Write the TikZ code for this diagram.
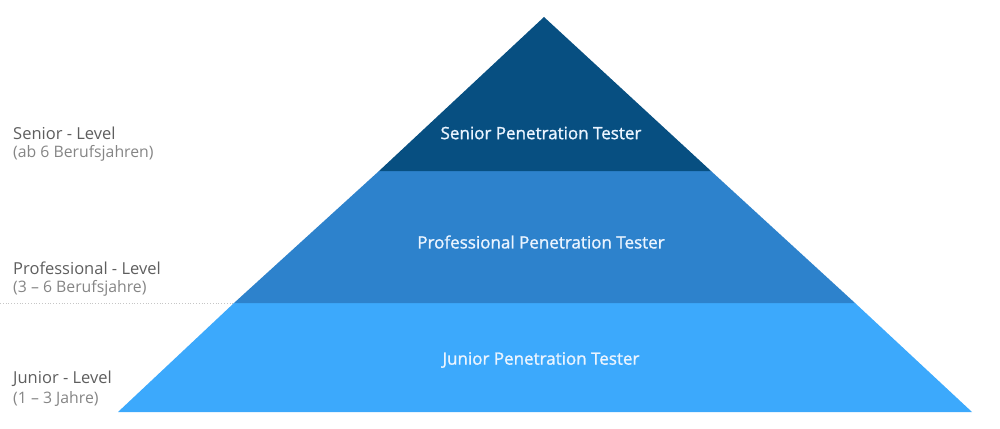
\documentclass[tikz,border=0pt]{standalone}
\usepackage{fontspec}
\setmainfont{Open Sans}
\newfontfamily\bandfont[FakeBold=1.2]{Open Sans}
\definecolor{seniorc}{HTML}{074F81}
\definecolor{profc}{HTML}{2D82CC}
\definecolor{juniorc}{HTML}{3CA9FC}
\definecolor{labc}{HTML}{5E5E5E}
\definecolor{subc}{HTML}{858585}
\definecolor{txtc}{HTML}{EAF4FF}
\begin{document}
\begin{tikzpicture}[x=1pt,y=-1pt,
  bandtext/.style={text=txtc,font=\bandfont\fontsize{17}{20}\selectfont,anchor=center},
  lvl/.style={text=labc,font=\fontsize{16.5}{19}\selectfont,anchor=west,inner sep=0pt},
  sub/.style={text=subc,font=\fontsize{15.8}{19}\selectfont,anchor=west,inner sep=0pt}]
\useasboundingbox (0,0) rectangle (1000,428);
\coordinate (apex) at (544,17);
\coordinate (bl) at (118,412);
\coordinate (br) at (972,412);
\coordinate (l1) at (379,171);
\coordinate (r1) at (711,171);
\coordinate (l2) at (234,303);
\coordinate (r2) at (855,303);
\fill[juniorc] (l2) -- (r2) -- (br) -- (bl) -- cycle;
\fill[profc] (l1) -- (r1) -- (r2) -- (l2) -- cycle;
\fill[seniorc] (apex) -- (r1) -- (l1) -- cycle;
\node[bandtext] (ts) at (541,133) {Senior Penetration Tester};
\node[bandtext] (tp) at (541,242) {Professional Penetration Tester};
\node[bandtext] (tj) at (541,360) {Junior Penetration Tester};
\node[lvl] (s1) at (13,133) {Senior - Level};
\node[sub] (s2) at (13,153) {(ab 6 Berufsjahren)};
\node[lvl] (p1) at (13,268) {Professional - Level};
\node[sub] (p2) at (13,288) {(3 – 6 Berufsjahre)};
\node[lvl] (j1) at (13,379) {Junior - Level};
\node[sub] (j2) at (13,399) {(1 – 3 Jahre)};
\coordinate (d0) at (0,303);
\draw[gray!45,dotted,line width=0.8pt] (d0) -- (l2);
\end{tikzpicture}
\end{document}
